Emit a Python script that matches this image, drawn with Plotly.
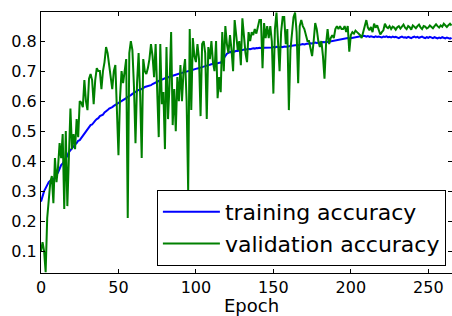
import plotly.graph_objects as go

train_acc = [
    0.265, 0.285, 0.30, 0.31, 0.322, 0.33, 0.335, 0.34, 0.338, 0.348,
    0.355, 0.362, 0.375, 0.387, 0.392, 0.40, 0.41, 0.418, 0.43, 0.437,
    0.442, 0.448, 0.455, 0.46, 0.468, 0.47, 0.477, 0.485, 0.49, 0.50,
    0.505, 0.512, 0.52, 0.522, 0.53, 0.535, 0.54, 0.543, 0.55, 0.553,
    0.555, 0.562, 0.565, 0.57, 0.575, 0.577, 0.58, 0.584, 0.587, 0.59,
    0.594, 0.597, 0.60, 0.603, 0.606, 0.61, 0.614, 0.616, 0.62, 0.624,
    0.628, 0.63, 0.633, 0.637, 0.638, 0.64, 0.643, 0.647, 0.648, 0.65,
    0.652, 0.653, 0.657, 0.66, 0.662, 0.665, 0.667, 0.669, 0.672, 0.674,
    0.676, 0.677, 0.68, 0.681, 0.683, 0.685, 0.686, 0.688, 0.69, 0.691,
    0.693, 0.694, 0.696, 0.697, 0.699, 0.70, 0.701, 0.703, 0.704, 0.706,
    0.708, 0.709, 0.71, 0.712, 0.713, 0.715, 0.717, 0.718, 0.72, 0.721,
    0.723, 0.724, 0.726, 0.725, 0.727, 0.728, 0.728, 0.735, 0.745, 0.752,
    0.758, 0.761, 0.764, 0.763, 0.766, 0.765, 0.768, 0.767, 0.769, 0.77,
    0.77, 0.772, 0.771, 0.773, 0.774, 0.773, 0.775, 0.776, 0.775, 0.777,
    0.776, 0.778, 0.777, 0.776, 0.778, 0.778, 0.779, 0.778, 0.777, 0.779,
    0.78, 0.779, 0.781, 0.78, 0.779, 0.781, 0.78, 0.782, 0.781, 0.781,
    0.783, 0.784, 0.785, 0.784, 0.786, 0.787, 0.786, 0.788, 0.789, 0.79,
    0.789, 0.791, 0.792, 0.791, 0.793, 0.792, 0.794, 0.795, 0.794, 0.795,
    0.796, 0.795, 0.797, 0.796, 0.798, 0.797, 0.798, 0.798, 0.799, 0.80,
    0.801, 0.803, 0.804, 0.806, 0.805, 0.808, 0.807, 0.809, 0.81, 0.809,
    0.81, 0.812, 0.811, 0.813, 0.815, 0.814, 0.816, 0.818, 0.818, 0.817,
    0.815, 0.817, 0.814, 0.816, 0.815, 0.813, 0.816, 0.814, 0.815, 0.813,
    0.812, 0.815, 0.814, 0.816, 0.813, 0.814, 0.812, 0.815, 0.813, 0.814,
    0.812, 0.81, 0.813, 0.815, 0.812, 0.813, 0.811, 0.814, 0.812, 0.81,
    0.813, 0.815, 0.812, 0.814, 0.811, 0.813, 0.815, 0.812, 0.81, 0.813,
    0.811, 0.814, 0.812, 0.81, 0.813, 0.811, 0.809, 0.812, 0.81, 0.813,
    0.811, 0.809, 0.812, 0.81, 0.808, 0.811,
]

val_acc = [
    0.10, 0.13, 0.10, 0.03, 0.21, 0.26, 0.33, 0.35, 0.26, 0.41,
    0.33, 0.38, 0.46, 0.41, 0.49, 0.24, 0.50, 0.25, 0.46, 0.575,
    0.44, 0.49, 0.44, 0.54, 0.48, 0.60, 0.595, 0.58, 0.67, 0.60,
    0.57, 0.675, 0.69, 0.67, 0.59, 0.67, 0.71, 0.70, 0.70, 0.64,
    0.70, 0.73, 0.78, 0.76, 0.72, 0.68, 0.64, 0.70, 0.72, 0.57,
    0.42, 0.61, 0.70, 0.66, 0.70, 0.74, 0.21, 0.76, 0.80, 0.77,
    0.65, 0.46, 0.66, 0.76, 0.62, 0.41, 0.74, 0.70, 0.69, 0.71,
    0.74, 0.79, 0.75, 0.68, 0.79, 0.62, 0.48, 0.79, 0.59, 0.63,
    0.44, 0.78, 0.54, 0.66, 0.83, 0.52, 0.64, 0.50, 0.68, 0.60,
    0.72, 0.60, 0.70, 0.74, 0.60, 0.30, 0.84, 0.57, 0.81, 0.75,
    0.73, 0.79, 0.74, 0.55, 0.79, 0.80, 0.76, 0.54, 0.78, 0.74,
    0.80, 0.73, 0.70, 0.80, 0.61, 0.68, 0.63, 0.83, 0.70, 0.85,
    0.79, 0.76, 0.82, 0.77, 0.70, 0.87, 0.82, 0.77, 0.80, 0.72,
    0.876, 0.80, 0.76, 0.73, 0.83, 0.80, 0.83, 0.82, 0.84, 0.825,
    0.85, 0.87, 0.87, 0.71, 0.86, 0.81, 0.85, 0.81, 0.85, 0.80,
    0.625, 0.84, 0.895, 0.79, 0.70, 0.83, 0.88, 0.88, 0.79, 0.84,
    0.57, 0.77, 0.84, 0.88, 0.895, 0.83, 0.66, 0.85, 0.87, 0.85,
    0.84, 0.82, 0.80, 0.80, 0.77, 0.75, 0.80, 0.86, 0.84, 0.80,
    0.78, 0.80, 0.75, 0.675, 0.79, 0.84, 0.79, 0.81, 0.82, 0.81,
    0.84, 0.85, 0.84, 0.85, 0.84, 0.84, 0.85, 0.83, 0.85, 0.765,
    0.82, 0.83, 0.825, 0.835, 0.83, 0.825, 0.82, 0.81, 0.83, 0.85,
    0.87, 0.845, 0.836, 0.847, 0.83, 0.858, 0.845, 0.853, 0.84, 0.822,
    0.83, 0.836, 0.858, 0.847, 0.843, 0.85, 0.84, 0.848, 0.845, 0.838,
    0.846, 0.85, 0.842, 0.848, 0.855, 0.845, 0.84, 0.85, 0.846, 0.838,
    0.852, 0.848, 0.843, 0.85, 0.855, 0.846, 0.84, 0.85, 0.848, 0.842,
    0.845, 0.852, 0.848, 0.843, 0.85, 0.856, 0.85, 0.845, 0.852, 0.848,
    0.858, 0.852, 0.847, 0.853, 0.858, 0.852,
]

epochs = list(range(len(train_acc)))

x_ticks = [0, 50, 100, 150, 200, 250]
y_ticks = [0.1, 0.2, 0.3, 0.4, 0.5, 0.6, 0.7, 0.8]
y_tick_labels = ["0.1", "0.2", "0.3", "0.4", "0.5", "0.6", "0.7", "0.8"]

FONT = "DejaVu Sans"

fig = go.Figure()
fig.add_trace(go.Scatter(x=epochs, y=train_acc, mode="lines", name="training accuracy",
                         line=dict(color="#0000ff", width=2)))
fig.add_trace(go.Scatter(x=epochs, y=val_acc, mode="lines", name="validation accuracy",
                         line=dict(color="#008000", width=2)))

axis_common = dict(showgrid=False, zeroline=False, showline=True, linecolor="black", linewidth=1,
                   mirror="ticks", ticks="inside", ticklen=4, tickwidth=1, tickcolor="black",
                   automargin=False,
                   tickfont=dict(family=FONT, size=16, color="black"))

fig.update_xaxes(range=[0, 265.3], tickvals=x_ticks, **axis_common)
fig.update_yaxes(range=[0.027, 0.897], tickvals=y_ticks, ticktext=y_tick_labels, **axis_common)

fig.add_annotation(text="Epoch", xref="paper", yref="paper", x=0.513, y=-0.126,
                   xanchor="center", yanchor="middle", showarrow=False,
                   font=dict(family=FONT, size=18, color="black"))

fig.update_layout(
    width=452, height=316,
    margin=dict(l=41, r=0, t=12, b=43, autoexpand=False),
    plot_bgcolor="white", paper_bgcolor="white",
    font=dict(family=FONT, color="black"),
    legend=dict(x=0.282, y=0.318, xanchor="left", yanchor="top",
                bgcolor="white", bordercolor="black", borderwidth=1,
                itemwidth=57,
                font=dict(family=FONT, size=22, color="black")),
)

fig.write_html("out.html", config={"displayModeBar": False},
               post_script="document.body.style.margin='0';document.body.style.overflow='hidden';")
